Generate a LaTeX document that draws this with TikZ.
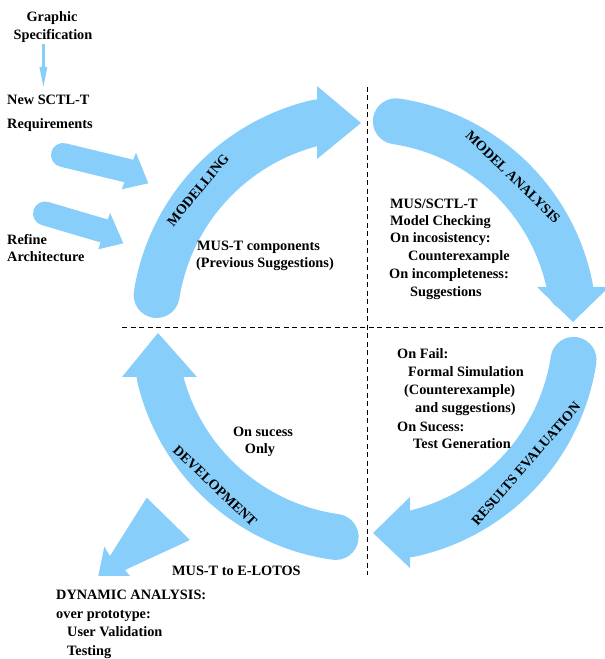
\documentclass[tikz,border=0pt]{standalone}
\usepackage{fontspec}
\setmainfont{Liberation Serif}
\definecolor{lsb}{RGB}{135,206,250}
\begin{document}
\begin{tikzpicture}[x=1pt,y=1pt,
  txt/.style={font=\fontsize{14.3}{17}\selectfont\bfseries, inner sep=0pt, anchor=base west},
  lbl/.style={font=\fontsize{14}{16}\selectfont\bfseries, inner sep=0pt},
  band/.style={draw=lsb, line width=46pt, line cap=round},
  thin band/.style={draw=lsb, line width=24pt, line cap=round},
  head/.style={fill=lsb, draw=none},
  sep/.style={draw=black, line width=0.9pt, dash pattern=on 5pt off 3.5pt}]
\clip (0,0) rectangle (605,659);
\coordinate (C) at (365,331);
% separators
\coordinate (h0) at (122,332); \coordinate (h1) at (605,332);
\coordinate (v0) at (367,572); \coordinate (v1) at (367,84);
\draw[sep] (h0) -- (h1);
\draw[sep] (v0) -- (v1);
% Modelling
\draw[band] ([shift={(171:211)}]C) arc[start angle=171, end angle=103, radius=211];
\fill[head] (317,573) -- (361,536) -- (317,500) -- cycle;
% Model analysis
\draw[band] ([shift={(81.5:209)}]C) arc[start angle=81.5, end angle=11, radius=209];
\fill[head] (537,372) -- (573,337) -- (609,372) -- cycle;
% Results evaluation
\draw[band] ([shift={(-8.7:211)}]C) arc[start angle=-8.7, end angle=-78, radius=211];
\fill[head] (410,162) -- (373,126) -- (410,91) -- cycle;
% Development
\draw[band] ([shift={(262:211)}]C) arc[start angle=262, end angle=193, radius=211];
\fill[head] (122,282) -- (158,326) -- (197,282) -- cycle;
% bottom-left arrow head
\fill[head] (146.7,161.3) -- (190,119) -- (125,89) -- (130,83) -- (98.3,83) -- (104.3,112.3) -- (110,103) -- cycle;
% input arrows
\coordinate (t1) at (63,504); \coordinate (b1) at (128.9,488);
\draw[thin band] (t1) -- (b1);
\fill[head] (136,506.3) -- (148.3,475.7) -- (121.7,469.7) -- cycle;
\coordinate (t2) at (45,445.5); \coordinate (b2) at (104.2,428);
\draw[thin band] (t2) -- (b2);
\fill[head] (110,446.3) -- (123.3,415.7) -- (98.3,409.7) -- cycle;
% small arrow
\coordinate (s0) at (43.4,615); \coordinate (s1) at (43.4,591);
\draw[draw=lsb, line width=3.5pt] (s0) -- (s1);
\fill[head] (39.4,592) -- (47.4,592) -- (43.4,572.3) -- cycle;
% rotated labels
\node[lbl, rotate=50.5] (mod) at (198,469) {MODELLING};
\node[lbl, rotate=-44.4] (ma) at (513,482) {MODEL ANALYSIS};
\node[lbl, rotate=49] (re) at (526,195) {RESULTS EVALUATION};
\node[lbl, rotate=-43.5] (dev) at (215,173) {DEVELOPMENT};
% texts
\node[txt, anchor=base] (g1) at (52,637) {Graphic};
\node[txt, anchor=base] (g2) at (53,619.5) {Specification};
\node[txt] (n1) at (7,554) {New SCTL-T};
\node[txt] (n2) at (7,530) {Requirements};
\node[txt] (r1) at (7,414) {Refine};
\node[txt] (r2) at (7,397) {Architecture};
\node[txt] (m1) at (197,408) {MUS-T components};
\node[txt] (m2) at (196,391) {(Previous Suggestions)};
\node[txt] (a1) at (390,450) {MUS/SCTL-T};
\node[txt] (a2) at (390,433) {Model Checking};
\node[txt] (a3) at (390,416) {On incosistency:};
\node[txt] (a4) at (408,398) {Counterexample};
\node[txt] (a5) at (389,380) {On incompleteness:};
\node[txt] (a6) at (410,362) {Suggestions};
\node[txt] (e1) at (397,300) {On Fail:};
\node[txt] (e2) at (408,282) {Formal Simulation};
\node[txt] (e3) at (404,264) {(Counterexample)};
\node[txt] (e4) at (415,246) {and suggestions)};
\node[txt] (e5) at (397,227) {On Sucess:};
\node[txt] (e6) at (413,210) {Test Generation};
\node[txt, anchor=base] (o1) at (263,222) {On sucess};
\node[txt, anchor=base] (o2) at (260,205) {Only};
\node[txt] (l1) at (172,83) {MUS-T to E-LOTOS};
\node[txt] (d1) at (56,59) {DYNAMIC ANALYSIS:};
\node[txt] (d2) at (56,40.5) {over prototype:};
\node[txt] (d3) at (67,22) {User Validation};
\node[txt] (d4) at (67,4) {Testing};
\end{tikzpicture}
\end{document}
